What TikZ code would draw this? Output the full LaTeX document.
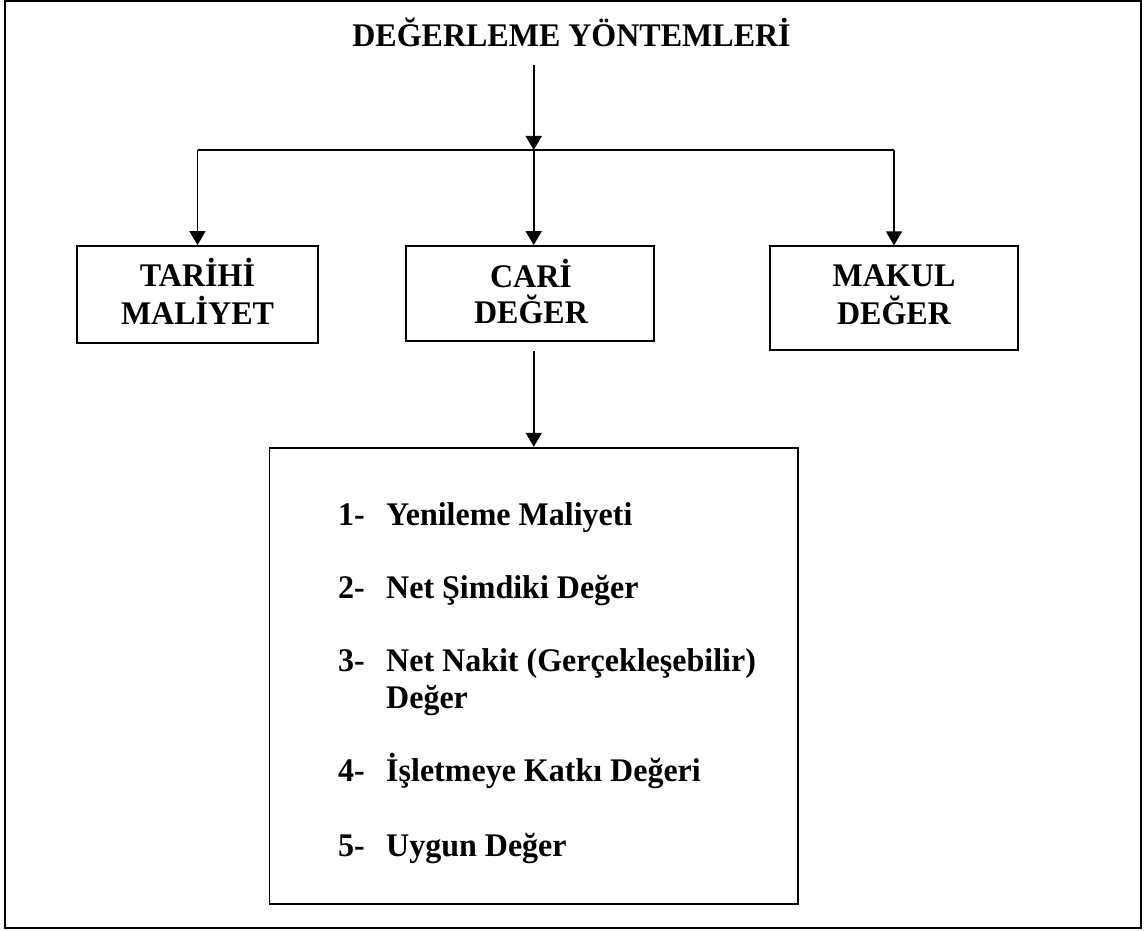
\documentclass[tikz,border=0pt]{standalone}
\usepackage{fontspec}
\setmainfont{Liberation Serif}[FakeStretch=0.97]
\usetikzlibrary{arrows.meta}
\begin{document}
\begin{tikzpicture}[x=1pt,y=-1pt,
  every node/.style={font=\fontsize{33}{36}\selectfont\bfseries, inner sep=0pt},
  frame/.style={draw, line width=2pt},
  box/.style={draw, line width=1.8pt, rectangle, inner sep=0pt},
  txt/.style={anchor=base},
  item/.style={anchor=base west},
  arr/.style={line width=1.6pt, -{Triangle[width=16pt,length=14pt]}},
  link/.style={line width=1.6pt}]
  \useasboundingbox (0,0) rectangle (1144,931);
  % outer frame
  \draw[frame] (5,1) rectangle (1140.5,927.5);

  % heading
  \node[txt, inner sep=0pt] (title) at (571.5,47) {DEĞERLEME YÖNTEMLERİ};
  \coordinate (hub) at (533.7,150);
  \coordinate (top) at (533.7,65);

  % the three methods
  \node[box, minimum width=241pt, minimum height=97pt] (tarihi) at (197.5,294.5) {};
  \node[box, minimum width=248pt, minimum height=95pt] (cari) at (529.7,293.5) {};
  \node[box, minimum width=248pt, minimum height=104pt] (makul) at (894,298.3) {};

  \node[txt] (tarihi1) at (197.5,286) {TARİHİ};
  \node[txt] (tarihi2) at (197.5,324) {MALİYET};
  \node[txt] (cari1) at (531,287) {CARİ};
  \node[txt] (cari2) at (531,323) {DEĞER};
  \node[txt] (makul1) at (894,286) {MAKUL};
  \node[txt] (makul2) at (894,324) {DEĞER};

  % current value sub-methods
  \node[box, minimum width=528.5pt, minimum height=456.3pt] (list) at (533.75,675.85) {};
  \node[item] (n1) at (338,525) {1-};
  \node[item] (t1) at (386,525) {Yenileme Maliyeti};
  \node[item] (n2) at (338,598) {2-};
  \node[item] (t2) at (386,598) {Net Şimdiki Değer};
  \node[item] (n3) at (338,671.7) {3-};
  \node[item] (t3) at (386,671.7) {Net Nakit (Gerçekleşebilir)};
  \node[item] (t3b) at (386,708) {Değer};
  \node[item] (n4) at (338,781.7) {4-};
  \node[item] (t4) at (386,781.7) {İşletmeye Katkı Değeri};
  \node[item] (n5) at (338,856) {5-};
  \node[item] (t5) at (386,856) {Uygun Değer};

  % connectors
  \draw[arr] (top) -- (hub);
  \draw[link] (hub -| tarihi.north) -- (hub -| makul.north);
  \draw[arr] (hub -| tarihi.north) -- (tarihi.north);
  \draw[arr] (hub) -- (cari.north -| hub);
  \draw[arr] (hub -| makul.north) -- (makul.north);
  \draw[arr, shorten <=9pt] (cari.south -| list.north) -- (list.north);
\end{tikzpicture}
\end{document}
